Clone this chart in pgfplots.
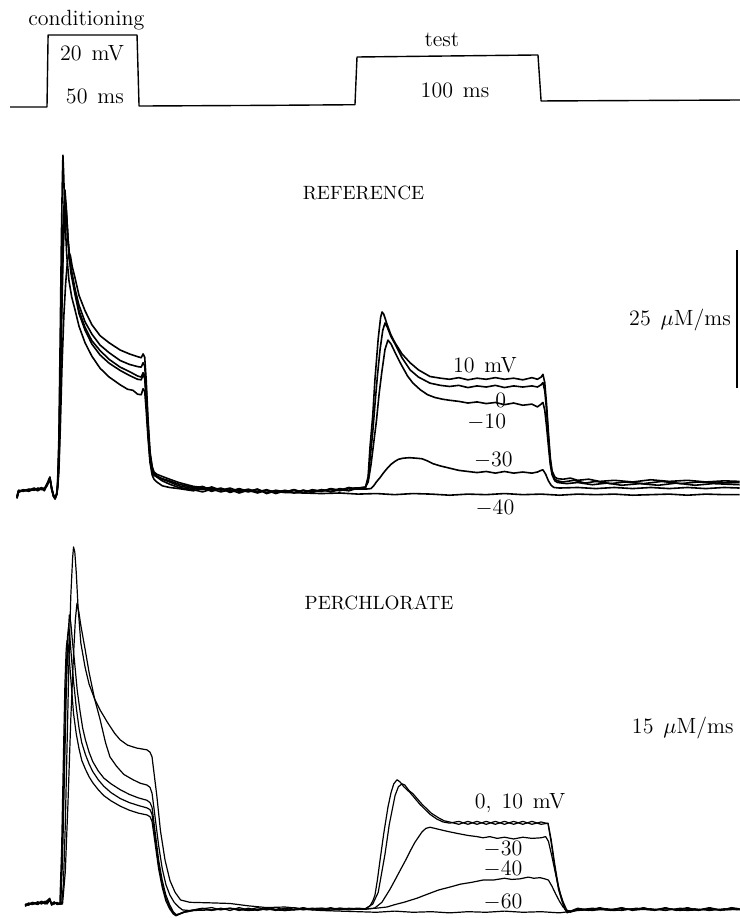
\documentclass[border=0pt]{standalone}
\usepackage{pgfplots}
\pgfplotsset{compat=1.18}

% Shared settings: one time axis (ms from conditioning onset) for all three rows
\pgfplotsset{
  row/.style={scale only axis, width=370pt, hide axis, clip=false,
    xmin=-25.68, xmax=378.69, anchor=south west},
  trace/.style={black, line width=0.8pt, line join=round, mark=none},
  thin trace/.style={black, line width=0.6pt, line join=round, mark=none},
}
\tikzset{every node/.append style={inner sep=1pt}}
\newcommand{\lab}{\fontsize{11}{13}\selectfont}
\newcommand{\caps}{\fontsize{9.6}{11}\selectfont}

\begin{document}
\begin{tikzpicture}
\useasboundingbox (0,0) rectangle (370pt,459pt);

% ---------------- voltage protocol (mV) ----------------
\begin{axis}[row, at={(0pt,396.5pt)}, height=62.5pt, ymin=-117.5, ymax=73.5]
\addplot[thin trace, line width=0.7pt] coordinates {
 (-20.2,-90) (0,-90) (0.6,20) (49.2,20) (50.3,-88.5) (120,-87.5) (168.3,-86.5)
 (169.4,-13.6) (268.3,-10.5) (270,-80.8) (378.7,-79.3)};
\node[anchor=base] at (axis cs:21.5,33.8) {\lab conditioning};
\node[anchor=base] at (axis cs:24.6,-18.2) {\lab 20\hspace{0.45em}mV};
\node[anchor=base] at (axis cs:26.2,-83.9) {\lab 50\hspace{0.45em}ms};
\node[anchor=base] at (axis cs:215.8,1.7) {\lab test};
\node[anchor=base] at (axis cs:223,-76.2) {\lab 100\hspace{0.45em}ms};
\end{axis}

% ---------------- reference solution (uM/ms) ----------------
\begin{axis}[row, at={(0pt,199pt)}, height=195pt, ymin=-4.891, ymax=65.76]
% 10 mV
\addplot[trace] coordinates {
 (-16.4,-0.8) (-15.6,0.3) (-13,0.5) (-10,0.4) (-7,0.8) (-5,0.6) (-3,1.0) (-1.5,0.5)
 (0,1.6) (1,2.3) (1.6,2.8) (2.5,0.9) (3.5,-0.5) (4.4,-0.9) (5.3,-0.2)
 (5.8,2) (6.5,10) (7.2,28) (7.9,47) (8.4,57) (8.7,61.2) (9.1,58) (9.8,50) (10.8,43)
 (12,38.5) (13.5,35.5) (15.3,33.2) (17.5,30.2) (20.8,27.2) (24.5,24.8) (29,22.6)
 (34,21.0) (40,19.6) (44,18.8) (47,18.6) (49.5,17.9) (51.5,17.8) (52.5,18.9) (53.4,18.4)
 (54.2,15) (55.2,10) (56.3,5.5) (57.5,3.2) (58.5,2.5) (60,2.0) (63,1.3) (67,1.0)
 (72,0.8) (80,0.4) (85,0.9) (90,0.3) (95,0.8) (100,0.1) (105,0.6) (110,0.2) (115,0.7)
 (120,-0.1) (125,0.4) (130,0.1) (135,0.6) (140,0.0) (145,0.5) (150,0.3) (155,0.8)
 (160,0.5) (165,1.0) (168,0.8) (174,1.0)
 (175.5,3) (176.5,8.3) (178,14) (179.2,20.5) (181,28) (182.3,31.8) (183.1,32.8)
 (184,32.4) (186,30.4) (188,28.6) (190.2,27.2) (194,25.2) (198.4,23.6) (203,22.3)
 (209.3,21.1) (215,20.8) (220,20.6) (225,20.9) (230,20.5) (235,20.8) (240,20.6)
 (245,20.9) (250,20.6) (255,20.8) (260,20.5) (265,20.9) (268,20.6) (270,21.0)
 (271,21.5) (272,20) (273,16) (274,11) (275,6.5) (276,4.0) (277.5,2.9) (279,2.6)
 (282,2.5) (286,2.7) (290,2.3) (296,2.5) (302,2.1) (310,2.3) (320,2.0) (330,2.4)
 (340,2.1) (350,2.3) (360,2.0) (370,2.2) (378.5,2.1)};
% 0 mV
\addplot[trace] coordinates {
 (-16.4,-0.6) (-15.6,0.5) (-13,0.3) (-10,0.6) (-7,0.5) (-5,0.9) (-3,0.7) (-1.5,0.9)
 (0,1.3) (1,2.0) (1.6,2.6) (2.5,1.0) (3.5,-0.3) (4.4,-0.8) (5.3,-0.1)
 (5.8,1.5) (6.5,8) (7.2,22) (8.0,38) (8.8,49) (9.8,54.9) (10.5,52) (11.5,46) (13,40)
 (15.3,36) (17.5,32.5) (20.8,29.5) (24.5,27) (29,25) (34,23.5) (40,22.2) (45,21.3)
 (49.5,20.6) (51.5,20.5) (52.5,21.4) (53.4,20.8) (54.2,17) (55.2,11) (56.3,6)
 (57.5,3.8) (58.5,3.2) (60,2.9) (63,2.2) (67,1.6) (72,1.0) (80,0.6) (85,0.2) (90,0.7)
 (95,0.2) (100,0.6) (105,0.0) (110,0.5) (115,0.0) (120,0.5) (125,-0.1) (130,0.4)
 (135,0.0) (140,0.5) (145,0.1) (150,0.6) (155,0.3) (160,0.8) (165,0.5) (168,0.9) (174,0.9)
 (175.5,2.5) (176.5,6) (178,11) (179.2,16) (180.5,21) (182,26) (183.5,29.5) (184.7,30.8)
 (186,30.0) (188,28.3) (190.2,27) (194,24.5) (198.4,22.3) (203,21) (209.3,19.9)
 (215,19.5) (220,19.3) (225,19.5) (230,19.1) (235,19.4) (240,19.2) (245,19.5)
 (250,19.1) (255,19.4) (260,19.2) (265,19.4) (268,19.2) (270,19.6) (271,20.0)
 (272,18.5) (273,15) (274,10) (275,5.8) (276,3.6) (277.5,2.5) (279,2.2) (282,2.0)
 (288,2.3) (294,1.8) (300,2.1) (308,1.7) (316,2.0) (326,1.7) (336,2.1) (346,1.7)
 (356,2.0) (366,1.8) (378.5,1.9)};
% -10 mV
\addplot[trace] coordinates {
 (-16.4,-0.9) (-15.6,0.2) (-13,0.6) (-10,0.3) (-7,0.7) (-5,0.4) (-3,0.9) (-1.5,0.4)
 (0,1.4) (1,2.5) (1.6,2.9) (2.5,0.7) (3.5,-0.6) (4.4,-1.0) (5.3,-0.3)
 (5.8,1.2) (6.5,6) (7.2,18) (8.0,34) (8.8,46) (9.8,53.5) (10.6,51) (11.6,45.5)
 (13,40.5) (15.3,36.5) (17.5,33) (20.8,30) (24.5,27.6) (29,25.8) (34,24.2) (40,22.8)
 (45,22.0) (49.5,21.2) (51.5,21.0) (52.5,21.8) (53.4,21.2) (54.2,17.5) (55.2,11.5)
 (56.3,6.5) (57.5,4.2) (58.5,3.5) (60,3.1) (63,2.5) (67,2.0) (72,1.3) (80,0.8)
 (85,1.2) (90,0.5) (95,0.9) (100,0.3) (105,0.8) (110,0.3) (115,0.7) (120,0.0)
 (125,0.5) (130,0.2) (135,0.6) (140,0.1) (145,0.6) (150,0.3) (155,0.7) (160,0.4)
 (165,0.9) (168,0.8) (174,1.1)
 (175.5,2.0) (177,5) (178.5,9) (180,13) (181.5,18) (183,22) (184.7,26) (186.3,27.7)
 (188,27.0) (190,25.6) (193,23.6) (197,21.2) (200,19.9) (204,18.7) (208,17.8)
 (212,17.3) (216,17.0) (220,16.8) (225,16.6) (230,16.3) (235,16.5) (240,16.2)
 (245,16.4) (250,16.0) (255,16.3) (260,15.9) (265,16.1) (268,15.6) (270,16.1)
 (271,16.4) (272,15) (273,12) (274,8.5) (275,5.2) (276,3.3) (277.5,2.2) (279,1.9)
 (284,1.7) (290,1.9) (298,1.5) (306,1.8) (314,1.4) (324,1.7) (334,1.4) (344,1.8)
 (354,1.4) (364,1.7) (378.5,1.5)};
% -30 mV
\addplot[trace] coordinates {
 (-16.4,-0.7) (-15.6,0.4) (-13,0.4) (-10,0.7) (-7,0.6) (-5,0.8) (-3,0.6) (-1.5,0.7)
 (0,1.5) (1,2.1) (1.6,2.7) (2.5,0.8) (3.5,-0.4) (4.4,-0.9) (5.3,-0.2)
 (5.8,1.0) (6.5,5) (7.2,16) (8.0,31) (8.8,43) (9.8,51.8) (10.6,50) (11.6,45) (13,41)
 (15.3,37) (17.5,34) (20.8,31) (24.5,28.8) (29,26.8) (34,25.4) (40,24) (45,23.3)
 (49.5,22.9) (51.5,22.8) (52.5,23.6) (53.4,23.0) (54.2,19) (55.2,12.5) (56.3,7)
 (57.5,4.4) (58.5,3.5) (60,3.0) (63,2.6) (67,2.2) (72,1.6) (80,1.0) (85,0.6) (90,1.1)
 (95,0.5) (100,0.9) (105,0.3) (110,0.7) (115,0.2) (120,0.6) (125,0.1) (130,0.5)
 (135,0.1) (140,0.5) (145,0.2) (150,0.6) (155,0.2) (160,0.6) (165,0.4) (168,0.7) (174,0.7)
 (177,0.8) (178.5,1.3) (180,2.0) (182,2.8) (184,3.7) (186,4.5) (188,5.2) (190,5.7)
 (192,6.1) (194.5,6.3) (198,6.4) (202,6.3) (205,6.2) (208,5.8) (211,5.3) (215,4.9)
 (220,4.5) (225,4.1) (230,3.9) (235,3.7) (240,3.9) (245,3.6) (250,3.9) (255,3.6)
 (260,3.8) (265,3.6) (268,3.8) (270,4.1) (271,4.2) (272.5,3.4) (274,2.2) (275.5,1.4)
 (277,1.0) (280,0.9) (290,1.0) (300,0.8) (310,1.0) (320,0.8) (330,1.0) (340,0.8)
 (350,1.0) (360,0.8) (370,1.0) (378.5,0.9)};
% -40 mV
\addplot[trace] coordinates {
 (-16.4,-1.0) (-15.6,0.1) (-13,0.5) (-10,0.5) (-7,0.9) (-5,0.5) (-3,0.8) (-1.5,0.6)
 (0,1.7) (1,2.2) (1.6,2.5) (2.5,1.1) (3.5,-0.5) (4.4,-1.1) (5.3,-0.3)
 (5.8,0.8) (6.5,4) (7.3,12) (8.2,23) (9.2,32) (10.2,38) (11.2,42) (12.0,43.5)
 (12.8,43) (13.8,41) (15.3,39) (17.5,35.8) (20.8,33) (24.5,30.5) (29,28.5) (34,27.2)
 (40,25.9) (45,25.2) (49.5,24.7) (51.5,24.5) (52.5,25.2) (53.4,24.6) (54.2,20.5)
 (55.2,13.5) (56.3,7.5) (57.5,4.8) (58.5,3.8) (60,3.4) (63,3.0) (67,2.5) (72,1.9)
 (80,1.2) (90,0.8) (100,0.5) (110,0.3) (120,0.4) (130,0.1) (140,0.0) (150,-0.1)
 (160,0.0) (170,-0.2) (180,-0.1) (190,-0.3) (200,-0.1) (210,-0.2) (220,-0.4)
 (230,-0.2) (240,-0.3) (250,-0.1) (260,-0.3) (270,-0.2) (280,-0.4) (290,-0.2)
 (300,-0.3) (310,-0.2) (320,-0.4) (330,-0.3) (340,-0.2) (350,-0.4) (360,-0.2)
 (370,-0.3) (378.5,-0.3)};
% 25 uM/ms scale bar
\addplot[black, line width=0.8pt] coordinates {(377,19) (377,44)};
\node[anchor=west] at (axis cs:138.5,54.3) {\caps REFERENCE};
\node[anchor=east] at (axis cs:375,31.3) {\lab 25\hspace{0.45em}$\mu$M/ms};
\node at (axis cs:239.3,23.2) {\lab 10\hspace{0.45em}mV};
\node at (axis cs:247.9,16.8) {\lab 0};
\node at (axis cs:240.3,12.9) {\lab $-$10};
\node at (axis cs:243.9,6.0) {\lab $-$30};
\node at (axis cs:244.8,-2.8) {\lab $-$40};
\end{axis}

% ---------------- perchlorate (uM/ms) ----------------
\begin{axis}[row, at={(0pt,0pt)}, height=194pt, ymin=-1.8755, ymax=64.28]
% 10 mV
\addplot[thin trace] coordinates {
 (-12,0.3) (-10,0.7) (-8,0.5) (-5,0.9) (-3,0.6) (-1,1.0) (0,0.6) (1.5,1.3) (2.5,0.4)
 (4,0.8) (5.5,0.5) (7,0.7) (8,0.5) (9,4) (10,14) (11,28) (12,42) (13,53) (14,59.5)
 (14.5,61.4) (15.2,60.5) (16,57) (17,51) (18.5,45) (20.8,40.9) (23,38) (26,35.5)
 (29,33.6) (33,31.5) (37,29.6) (40,28.5) (44,27.6) (49,27.1) (54.6,26.8) (56.3,26.4)
 (57.4,25.6) (60,19) (62,13) (64.5,8) (67.2,4.5) (70,2.5) (73,1.2) (78,0.8) (90,0.7)
 (100,0.6) (110,0.2) (120,-0.1) (130,0.0) (140,-0.3) (150,-0.2) (160,-0.4) (170,-0.2)
 (174,-0.3) (176.5,0.2) (178,1.0) (179.2,2) (180.5,4.5) (182,8) (184,12.5) (186.3,17)
 (188,19.5) (189.5,21) (191.3,21.7) (193,21.3) (195,20.5) (198.4,19.5) (203.8,17.5)
 (209.3,15.8) (213,15.0) (216.4,14.5) (220,14.3) (225,14.6) (230,14.1) (235,14.6)
 (240,14.1) (245,14.6) (250,14.1) (255,14.6) (260,14.1) (265,14.6) (270,14.1)
 (273.8,14.3) (275.5,11.5) (277.6,7) (279.5,3.5) (281.4,1.2) (283,-0.3) (284.2,-1.0)
 (286,-0.8) (290,-0.3) (296,-0.6) (302,-0.1) (308,-0.5) (314,-0.1) (320,-0.6)
 (326,-0.2) (332,-0.5) (338,-0.1) (344,-0.6) (350,-0.2) (356,-0.5) (362,-0.1)
 (368,-0.5) (374,-0.2) (378.5,-0.4)};
% 0 mV
\addplot[thin trace] coordinates {
 (-12,0.1) (-10,0.5) (-8,0.8) (-5,0.6) (-3,1.0) (-1,0.7) (0,1.1) (1.5,1.5) (2.5,0.6)
 (4,0.5) (5.5,0.8) (7,0.5) (8.5,0.5) (10,6) (11.5,18) (13,32) (14.5,43) (15.5,49)
 (16.4,51.8) (17.3,50.5) (18.5,48) (20.8,44) (23,40) (26,35.5) (29,32) (32,28)
 (34.4,25.6) (38,24) (42,22.6) (47,21.7) (51,21.1) (54.6,20.8) (56.3,20.4) (57.4,19.4)
 (59,15.5) (61,10.5) (63,6.5) (65,3.8) (67.2,2.0) (69.5,0.8) (72,0.0) (74,-0.5)
 (78,-0.6) (85,-0.3) (90,-0.5) (100,-0.2) (110,-0.5) (120,-0.3) (130,-0.6) (140,-0.2)
 (150,-0.5) (160,-0.2) (170,-0.4) (174,-0.3) (178,0.5) (181,2.5) (184.7,9) (187,14)
 (190.2,19) (192,20.5) (194,21.0) (195.5,20.8) (198,19.8) (200,19.3) (205,17.5)
 (210,16.0) (214,15.2) (217,14.7) (220,14.5) (225,14.1) (230,14.6) (235,14.1)
 (240,14.6) (245,14.1) (250,14.6) (255,14.1) (260,14.6) (265,14.1) (270,14.5)
 (273.8,14.2) (275.5,11) (277.6,6.5) (279.5,3) (281.4,1.0) (283,-0.4) (284.2,-0.9)
 (286,-0.7) (290,-0.2) (296,-0.5) (302,-0.2) (308,-0.6) (314,-0.2) (320,-0.5)
 (326,-0.1) (332,-0.6) (338,-0.2) (344,-0.5) (350,-0.1) (356,-0.6) (362,-0.2)
 (368,-0.6) (374,-0.1) (378.5,-0.3)};
% -30 mV
\addplot[thin trace] coordinates {
 (-12,0.4) (-10,0.6) (-8,0.4) (-5,0.8) (-3,0.5) (-1,0.9) (0,0.5) (1.5,1.1) (2.5,0.5)
 (4,0.7) (5.5,0.6) (7.5,0.5) (8.5,8) (9.5,22) (10.5,36) (11.5,46) (12.2,49.8)
 (13,48.5) (14,45) (15,42) (16.5,37) (18,33.5) (19.5,30.5) (21,28.5) (23,26.4)
 (25,24.8) (28,23.2) (31,22.0) (35,21) (40,20.0) (45,19.2) (50,18.6) (54.6,18.2)
 (56.3,17.8) (57.4,17.0) (59,13) (61,8) (63,4.5) (65,2.0) (67,0.4) (69,-0.8)
 (70.5,-1.3) (72,-1.2) (75,-0.8) (80,-0.5) (85,-0.2) (90,-0.6) (95,-0.2) (100,-0.6)
 (105,-0.1) (110,-0.5) (115,-0.1) (120,-0.5) (125,-0.1) (130,-0.5) (135,-0.1)
 (140,-0.5) (145,-0.2) (150,-0.5) (155,-0.1) (160,-0.5) (165,-0.2) (170,-0.4)
 (174,-0.4) (179,-0.2)
 (183,0.8) (187.4,3) (190,4.5) (192.9,6.2) (196,8) (198.4,9.5) (201,11) (204.9,12.8)
 (207,13.4) (209.3,13.6) (212,13.4) (216,13.1) (220.2,12.8) (225,12.5) (230,12.2)
 (235,12.0) (238.3,11.8) (242,12.0) (246,11.7) (250,11.9) (255,11.6) (260,11.9)
 (265,11.7) (270,11.8) (272.5,12.0) (274,11.2) (276,8.5) (278,5.5) (280,2.8)
 (282,0.9) (284,-0.5) (286,-0.9) (290,-0.5) (298,-0.2) (306,-0.5) (314,-0.2)
 (322,-0.5) (330,-0.3) (338,-0.6) (346,-0.2) (354,-0.5) (362,-0.3) (370,-0.5) (378.5,-0.3)};
% -40 mV
\addplot[thin trace] coordinates {
 (-12,0.2) (-10,0.4) (-8,0.6) (-5,0.5) (-3,0.8) (-1,0.6) (0,0.8) (1.5,1.4) (2.5,0.3)
 (4,0.6) (5.5,0.7) (7.3,0.5) (8.3,9) (9.3,24) (10.3,38) (11.2,46) (11.8,47.7)
 (12.5,46) (13.5,42) (14.5,38.5) (16,34) (17.5,30.5) (19,28) (21,26) (23,24.4)
 (25,23.1) (28,21.7) (31,20.6) (35,19.5) (40,18.5) (45,17.8) (50,17.3) (54.6,16.9)
 (56.3,16.6) (57.4,15.8) (59,12) (61,7.2) (63,3.8) (65,1.5) (67,0.0) (69,-1.0)
 (70.5,-1.4) (72,-1.2) (75,-0.9) (80,-0.6) (85,-0.3) (90,-0.1) (95,-0.5) (100,-0.2)
 (105,-0.6) (110,-0.2) (115,-0.6) (120,-0.2) (125,-0.6) (130,-0.2) (135,-0.5)
 (140,-0.1) (145,-0.5) (150,-0.2) (155,-0.6) (160,-0.2) (165,-0.5) (170,-0.3)
 (174,-0.3) (180,-0.2)
 (185.8,0.0) (190,0.4) (195,0.8) (202.2,1.5) (208,2.2) (214,2.9) (220.2,3.4) (226,3.9)
 (232,4.2) (238.3,4.6) (244,4.6) (250,4.9) (254,4.7) (258.5,4.8) (263,5.1) (266,4.9)
 (269.4,5.0) (272,4.8) (274,4.6) (276,3.5) (278,2.2) (280,1.0) (282,0.0) (284,-0.6)
 (287,-0.7) (290,-0.4) (298,-0.6) (306,-0.3) (314,-0.6) (322,-0.2) (330,-0.5)
 (338,-0.3) (346,-0.6) (354,-0.3) (362,-0.6) (370,-0.3) (378.5,-0.5)};
% -60 mV
\addplot[thin trace] coordinates {
 (-12,0.5) (-10,0.3) (-8,0.7) (-5,0.4) (-3,0.9) (-1,0.5) (0,0.9) (1.5,1.2) (2.5,0.6)
 (4,0.9) (5.5,0.4) (7.0,0.5) (8.0,10) (9.0,26) (9.8,38) (10.5,44) (11.0,45.5)
 (11.7,44.5) (12.5,41) (13.5,37) (14.5,33) (16,29.5) (17.5,27) (19,25) (21,23.5)
 (23,22.2) (25,21.2) (28,20.0) (31,19.0) (35,18.1) (40,17.2) (45,16.5) (50,16.0)
 (54.6,15.7) (56.3,15.4) (57.4,14.6) (59,11) (61,6.5) (63,3.3) (65,1.0) (67,-0.3)
 (69,-1.2) (70.5,-1.5) (72,-1.3) (75,-0.9) (80,-0.6) (90,-0.5) (100,-0.3) (110,-0.6)
 (120,-0.4) (130,-0.6) (140,-0.4) (150,-0.6) (160,-0.7) (170,-0.8) (180,-0.9)
 (190,-0.7) (200,-0.9) (210,-0.8) (220,-1.0) (230,-0.8) (240,-0.9) (250,-0.7)
 (260,-0.9) (270,-0.8) (280,-1.0) (290,-0.6) (300,-0.4) (310,-0.6) (320,-0.3)
 (330,-0.5) (340,-0.3) (350,-0.6) (360,-0.4) (370,-0.5) (378.5,-0.4)};
\node[anchor=west] at (axis cs:139.5,51.8) {\caps PERCHLORATE};
\node[anchor=east] at (axis cs:376.5,30.5) {\lab 15\hspace{0.45em}$\mu$M/ms};
\node at (axis cs:258.5,17.7) {\lab 0,\hspace{0.45em}10\hspace{0.45em}mV};
\node[inner sep=0pt] at (axis cs:249.2,9.9) {\lab $-$30};
\node[inner sep=0pt] at (axis cs:249.2,6.4) {\lab $-$40};
\node[inner sep=0pt] at (axis cs:249.2,0.85) {\lab $-$60};
\end{axis}
\end{tikzpicture}
\end{document}
